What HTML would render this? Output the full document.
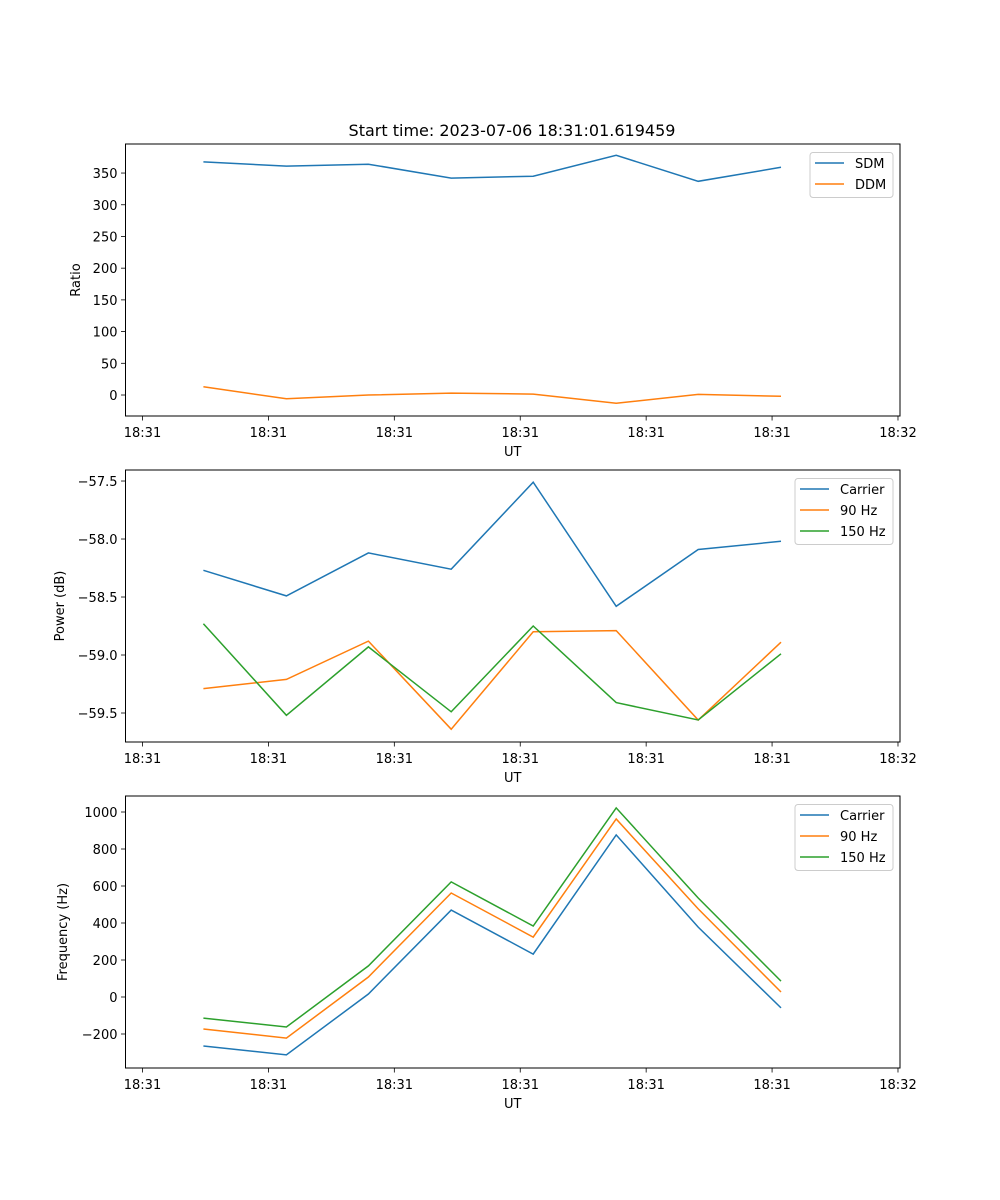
<!DOCTYPE html>
<html><head><meta charset="utf-8"><style>
body{margin:0;background:#fff;}
svg{display:block;font-family:"DejaVu Sans","Liberation Sans",sans-serif;}
</style></head><body>
<svg id="fig" width="1000" height="1200" xmlns="http://www.w3.org/2000/svg">
<text x="512" y="136" font-size="16" text-anchor="middle">Start time: 2023-07-06 18:31:01.619459</text>
</svg>
<script>
// time (s) of each sample
const times = [4.84, 11.43, 17.94, 24.52, 31.03, 37.62, 44.13, 50.71];
const xTickVals = [0, 10, 20, 30, 40, 50, 60];
const xTickLabels = ["18:31","18:31","18:31","18:31","18:31","18:31","18:32"];
const sdm = [367.5, 361, 364, 342, 345, 378, 337, 359];
const ddm = [13, -6, 0, 3, 1.5, -13, 1, -2];
const ratioTicks = [0, 50, 100, 150, 200, 250, 300, 350];
const powCarrier = [-58.27, -58.49, -58.12, -58.26, -57.51, -58.58, -58.09, -58.02];
const pow90 = [-59.29, -59.21, -58.88, -59.64, -58.80, -58.79, -59.56, -58.89];
const pow150 = [-58.73, -59.52, -58.93, -59.49, -58.75, -59.41, -59.56, -58.99];
const powTicks = [-57.5, -58.0, -58.5, -59.0, -59.5];
const powTickLabels = ["\u221257.5","\u221258.0","\u221258.5","\u221259.0","\u221259.5"];
const frqCarrier = [-265, -313, 16, 470, 232, 876, 378, -59];
const frq90 = [-173, -222, 108, 562, 324, 962, 476, 27];
const frq150 = [-114, -162, 168, 622, 384, 1022, 535, 86];
const frqTicks = [-200, 0, 200, 400, 600, 800, 1000];
const frqTickLabels = ["\u2212200","0","200","400","600","800","1000"];

const NS = "http://www.w3.org/2000/svg";
const svg = document.getElementById('fig');
const L = 125.5, R = 900, XMIN = -1.35, XMAX = 60.16;
const C = {blue:"#1f77b4", orange:"#ff7f0e", green:"#2ca02c"};
function el(tag, attrs, parent){const e=document.createElementNS(NS,tag);for(const k in attrs)e.setAttribute(k,attrs[k]);(parent||svg).appendChild(e);return e;}
function xs(t){return L + (t - XMIN) / (XMAX - XMIN) * (R - L);}

function panel(name, top, bottom, ymin, ymax, yTicks, yLabels, ylabel, series, legend){
  const g = el('g', {});
  
  
  const ys = v => bottom - (v - ymin) / (ymax - ymin) * (bottom - top);
  series.forEach(s => {
    const p = el('polyline', {points: times.map((t,i)=>xs(t).toFixed(1)+','+ys(s.data[i]).toFixed(1)).join(' '), fill:'none', stroke:s.color, 'stroke-width':1.5}, g);
    
    
  });
  const f = el('rect', {x:L, y:top, width:R-L, height:bottom-top, fill:'none', stroke:'#000', 'stroke-width':1}, g);
  
  
  xTickVals.forEach((v,i)=>{
    const x = xs(v);
    el('line', {x1:x, x2:x, y1:bottom, y2:bottom+4.5, stroke:'#000', 'stroke-width':0.8}, g);
    const t = el('text', {x:x, y:bottom+21, 'font-size':13, 'text-anchor':'middle'}, g);
    t.textContent = xTickLabels[i];
    
    
  });
  const xl = el('text', {x:(L+R)/2, y:bottom+40, 'font-size':13, 'text-anchor':'middle'}, g);
  xl.textContent = 'UT';
  
  
  yTicks.forEach((v,i)=>{
    const y = ys(v);
    el('line', {x1:L-4.5, x2:L, y1:y, y2:y, stroke:'#000', 'stroke-width':0.8}, g);
    const t = el('text', {x:L-8, y:y+5, 'font-size':13, 'text-anchor':'end'}, g);
    t.textContent = yLabels[i];
    
    
  });
  const yl = el('text', {x:0, y:0, 'font-size':13, 'text-anchor':'middle', transform:`translate(${legend.ylx},${(top+bottom)/2}) rotate(-90)`}, g);
  yl.textContent = ylabel;
  
  
  const lg = el('g', {}, g);
  
  
  const h = 3 + series.length * 21;
  el('rect', {x:legend.x, y:top+8.5, width:R-7-legend.x, height:h, rx:3, fill:'#fff', 'fill-opacity':0.8, stroke:'#ccc', 'stroke-width':1}, lg);
  series.forEach((s,i)=>{
    const y = top + 19 + i*21;
    el('line', {x1:legend.x+5, x2:legend.x+34, y1:y, y2:y, stroke:s.color, 'stroke-width':1.5}, lg);
    const t = el('text', {x:legend.x+45, y:y+5, 'font-size':13}, lg);
    t.textContent = s.label;
    
    
  });
}

panel('ratio-panel', 144, 416, -33.1, 395.8, ratioTicks, ratioTicks.map(String), 'Ratio',
  [{id:'sdm', label:'SDM', data:sdm, color:C.blue},{id:'ddm', label:'DDM', data:ddm, color:C.orange}], {x:810, ylx:80});
panel('power-panel', 470, 742, -59.75, -57.405, powTicks, powTickLabels, 'Power (dB)',
  [{id:'carrier-power', label:'Carrier', data:powCarrier, color:C.blue},{id:'90hz-power', label:'90 Hz', data:pow90, color:C.orange},{id:'150hz-power', label:'150 Hz', data:pow150, color:C.green}], {x:795, ylx:64});
panel('frequency-panel', 796, 1068, -383.8, 1086.5, frqTicks, frqTickLabels, 'Frequency (Hz)',
  [{id:'carrier-freq', label:'Carrier', data:frqCarrier, color:C.blue},{id:'90hz-freq', label:'90 Hz', data:frq90, color:C.orange},{id:'150hz-freq', label:'150 Hz', data:frq150, color:C.green}], {x:795, ylx:67});
</script>
</body></html>
